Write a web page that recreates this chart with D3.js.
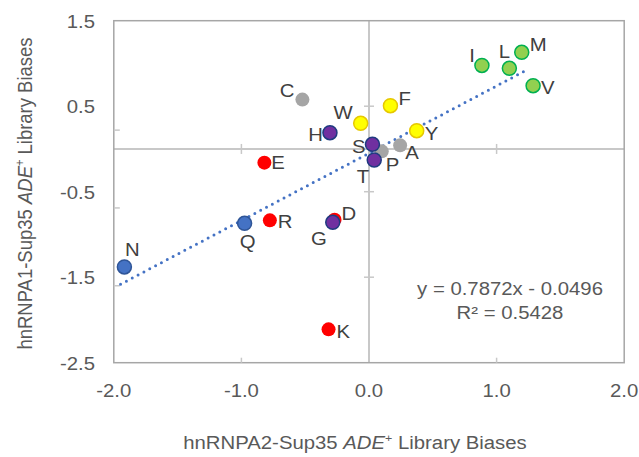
<!DOCTYPE html>
<html>
<head>
<meta charset="utf-8">
<script src="https://cdn.jsdelivr.net/npm/d3@7"></script>
<style>
  body { margin: 0; background: #fff; }
  svg text { font-family: "Liberation Sans", Arial, sans-serif; }
</style>
</head>
<body>
<div id="chart"></div>
<script>
// amino acid residues
const letters = ["I", "L", "M", "V", "C", "F", "W", "Y", "H", "S", "A", "P", "T", "E", "R", "Q", "D", "G", "N", "K"];
const a2Bias  = [0.885, 1.10, 1.197, 1.286, -0.522, 0.168, -0.065, 0.374, -0.306, 0.027, 0.244, 0.10, 0.041, -0.82, -0.777, -0.975, -0.27, -0.284, -1.917, -0.317];
const a1Bias  = [0.977, 0.943, 1.13, 0.74, 0.577, 0.506, 0.30, 0.214, 0.19, 0.054, 0.042, -0.028, -0.129, -0.16, -0.835, -0.87, -0.827, -0.858, -1.38, -2.11];
const groups  = ["hydrophobic", "hydrophobic", "hydrophobic", "hydrophobic", "other", "aromatic", "aromatic", "aromatic", "polar", "polar", "other", "other", "polar", "charged", "charged", "amide", "charged", "polar", "amide", "charged"];

const xTicks = [-2, -1, 0, 1, 2];
const yTicks = [1.5, 0.5, -0.5, -1.5, -2.5];
const slope = 0.7872, intercept = -0.0496, rSquared = 0.5428;

const groupFill   = { hydrophobic: "#92d050", aromatic: "#ffff00", polar: "#7030a0", charged: "#ff0000", amide: "#4472c4", other: "#a5a5a5" };
const groupStroke = { hydrophobic: "#00b050", aromatic: "#e6c800", polar: "#1f3b80", charged: "none", amide: "#2f5597", other: "none" };

// label placement: [dx, dy] from the point, and anchor
const labelPlace = {
  I: [-7, -3, "end"], L: [-5, -10, "middle"], M: [8, -1, "start"], V: [8, 8, "start"],
  C: [-8, -3, "end"], F: [8, -1, "start"], W: [-8, -4, "end"], Y: [8, 9, "start"],
  H: [-7, 8, "end"], S: [-7, 9, "end"], A: [5, 14, "start"], P: [4, 20, "start"],
  T: [-5, 23, "end"], E: [7, 6, "start"], R: [8, 8, "start"], Q: [3, 25, "middle"],
  D: [7, 0, "start"], G: [-6, 23, "end"], N: [8, -11, "middle"], K: [8, 9, "start"]
};

const W = 639, H = 457;
const x0 = 113.8, x1 = 624.2, yTop = 20.7, yBot = 362.7;
const stretch = 1.13; // text in the reference is a bit wider than tall

const svg = d3.select("#chart").append("svg").attr("width", W).attr("height", H);

const x = d3.scaleLinear().domain([-2, 2]).range([x0, x1]);
const y = d3.scaleLinear().domain([-2.5, 1.5]).range([yBot, yTop]);

function place(px, py) { return `translate(${px},${py}) scale(${stretch},1)`; }

// zero lines (axes crossing inside the plot)
svg.append("line").attr("x1", x0).attr("x2", x1).attr("y1", y(0)).attr("y2", y(0))
  .attr("stroke", "#c8c8c8").attr("stroke-width", 2);
svg.append("line").attr("x1", x(0)).attr("x2", x(0)).attr("y1", yTop).attr("y2", yBot)
  .attr("stroke", "#c8c8c8").attr("stroke-width", 2);

// tick marks on the zero lines
svg.selectAll(".xt").data(xTicks.filter(d => d !== 0 && Math.abs(d) < 2)).enter().append("line")
  .attr("x1", d => x(d)).attr("x2", d => x(d)).attr("y1", y(0) - 5).attr("y2", y(0) + 5)
  .attr("stroke", "#c8c8c8").attr("stroke-width", 1.5);
svg.selectAll(".yt").data(yTicks.filter(d => d > -2.5 && d < 1.5)).enter().append("line")
  .attr("x1", x(0) - 5).attr("x2", x(0) + 5).attr("y1", d => y(d)).attr("y2", d => y(d))
  .attr("stroke", "#c8c8c8").attr("stroke-width", 1.5);

// frame
svg.append("rect").attr("x", x0).attr("y", yTop).attr("width", x1 - x0).attr("height", yBot - yTop)
  .attr("fill", "none").attr("stroke", "#a6a6a6").attr("stroke-width", 1.5);

// frame ticks
svg.selectAll(".bt").data(xTicks.filter(d => Math.abs(d) === 1)).enter().append("line")
  .attr("x1", d => x(d)).attr("x2", d => x(d)).attr("y1", yBot).attr("y2", yBot - 5)
  .attr("stroke", "#c8c8c8").attr("stroke-width", 1.5);
svg.selectAll(".lt").data([0.22, -0.69, -1.6]).enter().append("line")
  .attr("x1", x0).attr("x2", x0 + 6).attr("y1", d => y(d)).attr("y2", d => y(d))
  .attr("stroke", "#c8c8c8").attr("stroke-width", 1.5);

// tick labels
svg.selectAll(".xl").data(xTicks).enter().append("text")
  .attr("transform", d => place(x(d), yBot + 34))
  .attr("text-anchor", "middle").attr("font-size", 18).attr("fill", "#595959")
  .text(d => d.toFixed(1));
svg.selectAll(".yl").data(yTicks).enter().append("text")
  .attr("transform", d => place(95, y(d) + 7))
  .attr("text-anchor", "end").attr("font-size", 18).attr("fill", "#595959")
  .text(d => d.toFixed(1));

// axis titles
function axisTitle(sel, label) {
  sel.append("tspan").text(label + " ");
  sel.append("tspan").attr("font-style", "italic").text("ADE");
  sel.append("tspan").attr("font-size", 11).attr("dy", -7).text("+");
  sel.append("tspan").attr("dy", 7).text(" Library Biases");
}
axisTitle(svg.append("text").attr("transform", place(355, 449)).attr("text-anchor", "middle")
  .attr("font-size", 18).attr("fill", "#595959"), "hnRNPA2-Sup35");
axisTitle(svg.append("text").attr("transform", `translate(32,193.5) scale(${stretch},1) rotate(-90)`)
  .attr("text-anchor", "middle").attr("font-size", 18.5).attr("fill", "#595959"), "hnRNPA1-Sup35");

// data table
const points = letters.map((l, i) => ({ letter: l, x: a2Bias[i], y: a1Bias[i], group: groups[i] }));

// draw in an order so that overlaps look like the reference
const drawOrder = ["C", "F", "W", "Y", "H", "A", "P", "S", "T", "E", "R", "Q", "D", "G", "N", "K", "I", "L", "M", "V"];
const ordered = drawOrder.map(l => points.find(p => p.letter === l));

// trendline over the range of the data
const xExt = d3.extent(a2Bias);
const tx0 = xExt[0] - 0.03, tx1 = xExt[1] - 0.04;
svg.append("line")
  .attr("x1", x(tx0)).attr("y1", y(slope * tx0 + intercept))
  .attr("x2", x(tx1)).attr("y2", y(slope * tx1 + intercept))
  .attr("stroke", "#4472c4").attr("stroke-width", 3)
  .attr("stroke-linecap", "round").attr("stroke-dasharray", "0 6.6");

svg.selectAll(".pt").data(ordered).enter().append("circle")
  .attr("cx", d => x(d.x)).attr("cy", d => y(d.y)).attr("r", 7)
  .attr("fill", d => groupFill[d.group])
  .attr("stroke", d => groupStroke[d.group])
  .attr("stroke-width", 1.5);

svg.selectAll(".lab").data(points).enter().append("text")
  .attr("transform", d => place(x(d.x) + labelPlace[d.letter][0], y(d.y) + labelPlace[d.letter][1]))
  .attr("text-anchor", d => labelPlace[d.letter][2])
  .attr("font-size", 18).attr("fill", "#404040")
  .text(d => d.letter);

// equation
svg.append("text").attr("transform", place(510, 295)).attr("text-anchor", "middle")
  .attr("font-size", 18).attr("fill", "#595959")
  .text(`y = ${slope}x - ${Math.abs(intercept)}`);
svg.append("text").attr("transform", place(510, 318.5)).attr("text-anchor", "middle")
  .attr("font-size", 18).attr("fill", "#595959")
  .text(`R² = ${rSquared}`);
</script>
</body>
</html>
